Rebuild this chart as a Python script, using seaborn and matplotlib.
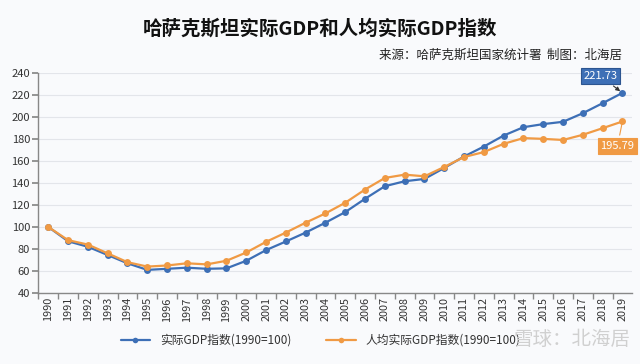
import pandas as pd
import matplotlib.pyplot as plt
import seaborn as sns

years = list(range(1990, 2020))
gdp_index = [100, 87, 82, 74.5, 67, 61, 62, 63, 62, 62.4, 69.3, 79, 86.8, 94.9, 103.9,
             113.5, 125.6, 137, 141.5, 143.6, 153.6, 164, 173, 183, 190.6, 193.4, 195.5,
             203.3, 212.4, 221.73]
gdp_pc_index = [100, 88, 84, 76, 68, 64, 65, 67, 66, 69.3, 76.8, 86.5, 94.9, 103.9, 112.3,
                122, 134, 144.5, 147.5, 146, 154.5, 163.5, 168, 175.5, 180.7, 180, 179,
                183.7, 189.7, 195.79]
series_names = ['实际GDP指数(1990=100)', '人均实际GDP指数(1990=100)']
colors = ['#3d6fb6', '#f09a44']

df = pd.DataFrame({'年份': years * 2,
                   '指数': gdp_index + gdp_pc_index,
                   '系列': [series_names[0]] * len(years) + [series_names[1]] * len(years)})

sns.set_theme(style='whitegrid')
plt.rcParams['font.family'] = ['Noto Sans CJK SC', 'DejaVu Sans']
plt.rcParams['axes.unicode_minus'] = False

fig = plt.figure(figsize=(6.4, 3.64), dpi=100)
fig.patch.set_facecolor('#f9fafc')
ax = fig.add_axes([0.06, 0.195, 0.928, 0.605])
ax.set_facecolor('#f9fafc')

sns.lineplot(data=df, x='年份', y='指数', hue='系列', palette=colors, marker='o',
             markersize=5, markeredgewidth=0, linewidth=1.6, ax=ax)

ax.set_xlim(1989.5, 2019.5)
ax.set_ylim(40, 240)
ax.set_yticks(range(40, 241, 20))
ax.set_xticks(years)
ax.set_xticklabels([str(y) for y in years], rotation=90, fontsize=7.8, color='#333333')
ax.set_xticks([y + 0.5 for y in years[:-1]] + [1989.5], minor=True)
ax.tick_params(axis='y', labelsize=8, colors='#333333', pad=2)
ax.tick_params(axis='x', which='major', length=0, pad=3)
ax.tick_params(axis='x', which='minor', length=4, color='#888888', bottom=True)
ax.tick_params(axis='y', length=4, color='#888888', left=True)
ax.grid(axis='x', visible=False)
ax.grid(axis='y', color='#e3e5ea', linewidth=0.8)
ax.set_xlabel('')
ax.set_ylabel('')
for s in ['top', 'right']:
    ax.spines[s].set_visible(False)
for s in ['left', 'bottom']:
    ax.spines[s].set_color('#888888')
    ax.spines[s].set_linewidth(1)

# 末端数据标签
ax.annotate(f'{gdp_index[-1]:.2f}', xy=(years[-1], gdp_index[-1]), xytext=(2017.9, 237),
            fontsize=8, color='white', ha='center', va='center',
            bbox=dict(boxstyle='square,pad=0.25', fc=colors[0], ec='#2c5590', lw=0.8),
            arrowprops=dict(arrowstyle='-|>', color='#333333', lw=0.8, mutation_scale=6))
ax.annotate(f'{gdp_pc_index[-1]:.2f}', xy=(years[-1], gdp_pc_index[-1]), xytext=(2018.75, 173.5),
            fontsize=8, color='white', ha='center', va='center',
            bbox=dict(boxstyle='square,pad=0.25', fc=colors[1], ec=colors[1], lw=0.8),
            arrowprops=dict(arrowstyle='-', color=colors[1], lw=0.8))

leg = ax.legend(loc='center', bbox_to_anchor=(0.475, -0.215), ncol=2, frameon=False,
                fontsize=8.5, handlelength=2.5, columnspacing=3, markerscale=0.8)
for t in leg.get_texts():
    t.set_color('#333333')

fig.text(0.5, 0.922, '哈萨克斯坦实际GDP和人均实际GDP指数', ha='center', va='center',
         fontsize=14, fontweight='bold', color='#111111')
fig.text(0.972, 0.848, '来源：哈萨克斯坦国家统计署  制图：北海居', ha='right', va='center',
         fontsize=9, style='italic', color='#222222')
fig.text(0.985, 0.068, '雪球：北海居', ha='right', va='center', fontsize=14,
         color='#d0d0d0')

fig.savefig('out.png', dpi=100, facecolor=fig.get_facecolor())
